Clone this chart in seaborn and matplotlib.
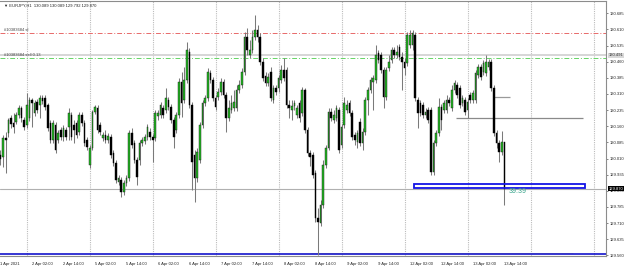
import matplotlib
matplotlib.use("Agg")
import matplotlib.pyplot as plt
import matplotlib.patches as mpatches
import numpy as np
import pandas as pd
import seaborn as sns

symbol_title = "\u25BC EURJPY,H1  130.089 130.089 129.792 129.870"

opens = [130.026,130.017,130.105,130.129,130.198,130.175,130.180,130.212,130.245,130.189,
         130.166,130.198,130.282,130.222,130.273,130.259,130.291,130.291,130.259,130.175,
         130.096,130.166,130.096,130.143,130.110,130.143,130.156,130.212,130.166,130.175,
         130.133,130.212,130.175,130.096,129.980,130.059,130.226,130.245,130.166,130.105,
         130.119,130.096,130.110,130.036,129.989,129.901,129.910,129.854,129.896,129.919,
         130.129,130.082,130.003,130.003,130.082,130.091,130.110,130.133,130.110,130.105,
         130.208,130.212,130.245,130.236,130.282,130.249,130.189,130.143,130.212,130.366,
         130.282,130.375,130.505,130.259,130.026,129.919,130.003,130.166,130.268,130.291,
         130.408,130.375,130.291,130.296,130.319,130.366,130.305,130.198,130.236,130.245,
         130.245,130.329,130.352,130.412,130.575,130.491,130.515,130.575,130.608,130.575,
         130.459,130.394,130.361,130.412,130.282,130.338,130.338,130.375,130.422,130.422,
         130.259,130.236,130.254,130.212,130.268,130.222,130.329,130.143,130.036,130.026,
         129.943,129.733,129.710,129.794,129.980,130.059,130.226,130.189,130.198,130.236,
         130.073,130.166,130.236,130.268,130.222,130.119,130.087,130.180,130.082,130.133,
         130.282,130.329,130.366,130.375,130.501,130.491,130.422,130.296,130.431,130.468,
         130.515,130.491,130.528,130.482,130.459,130.454,130.538,130.538,130.584,130.282,
         130.268,130.259,130.212,130.236,130.236,129.947,130.082,130.129,130.249,130.236,
         130.236,130.282,130.245,130.329,130.352,130.338,130.268,130.282,130.236,130.305,
         130.282,130.282,130.398,130.435,130.412,130.408,130.435,130.459,130.338,130.129,
         130.082,130.040,130.089]
highs = [130.050,130.119,130.133,130.198,130.212,130.222,130.226,130.259,130.254,130.203,
         130.315,130.296,130.291,130.282,130.287,130.305,130.305,130.305,130.268,130.189,
         130.189,130.180,130.143,130.156,130.166,130.156,130.245,130.226,130.189,130.189,
         130.226,130.226,130.189,130.110,130.073,130.236,130.259,130.259,130.180,130.133,
         130.143,130.129,130.124,130.050,130.003,129.933,129.924,129.910,129.933,130.143,
         130.152,130.096,130.017,130.096,130.110,130.124,130.170,130.152,130.124,130.236,
         130.236,130.273,130.259,130.338,130.296,130.263,130.203,130.226,130.384,130.412,
         130.435,130.552,130.524,130.273,130.050,130.059,130.180,130.282,130.305,130.431,
         130.422,130.389,130.305,130.338,130.384,130.380,130.319,130.282,130.305,130.329,
         130.352,130.375,130.431,130.598,130.617,130.561,130.608,130.677,130.631,130.594,
         130.477,130.412,130.408,130.435,130.352,130.352,130.398,130.445,130.477,130.435,
         130.282,130.282,130.282,130.259,130.282,130.342,130.338,130.156,130.050,130.040,
         129.957,129.780,129.817,130.003,130.073,130.245,130.245,130.236,130.259,130.249,
         130.170,130.296,130.282,130.282,130.236,130.133,130.143,130.198,130.152,130.296,
         130.342,130.389,130.398,130.538,130.515,130.505,130.435,130.435,130.491,130.528,
         130.528,130.538,130.542,130.505,130.477,130.598,130.608,130.608,130.598,130.296,
         130.282,130.273,130.245,130.249,130.249,130.096,130.143,130.291,130.263,130.282,
         130.305,130.296,130.352,130.375,130.366,130.352,130.305,130.296,130.291,130.319,
         130.329,130.422,130.449,130.449,130.468,130.491,130.473,130.473,130.352,130.143,
         130.096,130.138,130.089]
lows = [129.980,129.970,129.943,130.110,130.152,130.129,130.170,130.198,130.180,130.143,
        130.152,130.184,130.156,130.208,130.222,130.198,130.263,130.236,130.138,130.082,
        130.082,130.036,130.082,130.096,130.091,130.096,130.096,130.096,130.082,130.105,
        130.119,130.161,130.068,130.050,129.966,130.050,130.217,130.129,130.119,130.091,
        130.082,130.082,130.012,129.975,129.896,129.887,129.831,129.840,129.882,129.905,
        130.059,129.989,129.887,129.980,130.068,130.077,130.096,130.096,129.994,130.091,
        130.189,130.198,130.198,130.222,130.236,130.175,130.059,130.129,130.198,130.203,
        130.268,130.361,130.245,129.864,129.808,129.901,129.989,130.152,130.254,130.277,
        130.361,130.277,130.236,130.282,130.305,130.291,130.133,130.184,130.222,130.231,
        130.231,130.315,130.338,130.398,130.491,130.477,130.501,130.561,130.552,130.445,
        130.370,130.347,130.347,130.277,130.268,130.305,130.319,130.361,130.370,130.245,
        130.198,130.189,130.236,130.198,130.180,130.208,130.129,130.022,129.975,129.919,
        129.715,129.561,129.696,129.780,129.966,130.050,130.184,130.175,130.184,130.036,
        130.059,130.152,130.222,130.208,130.096,130.073,130.059,130.068,130.050,130.119,
        130.212,130.315,130.236,130.361,130.454,130.408,130.245,130.282,130.417,130.454,
        130.477,130.477,130.468,130.329,130.398,130.440,130.524,130.515,130.277,130.152,
        130.208,130.198,130.198,130.175,129.933,129.933,130.068,130.115,130.143,130.222,
        130.222,130.254,130.231,130.315,130.291,130.245,130.254,130.212,130.198,130.268,
        130.268,130.268,130.384,130.375,130.398,130.394,130.422,130.324,130.115,130.059,
        129.994,130.026,129.792]
closes = [130.008,130.105,130.096,130.189,130.170,130.156,130.212,130.245,130.198,130.156,
          130.259,130.282,130.268,130.268,130.236,130.291,130.277,130.249,130.152,130.096,
          130.175,130.050,130.129,130.110,130.152,130.110,130.222,130.110,130.143,130.119,
          130.212,130.175,130.082,130.063,130.059,130.226,130.249,130.143,130.133,130.119,
          130.096,130.115,130.026,129.989,129.910,129.919,129.854,129.896,129.919,130.129,
          130.073,130.003,129.924,130.082,130.096,130.110,130.156,130.110,130.096,130.222,
          130.222,130.259,130.212,130.291,130.249,130.189,130.110,130.212,130.366,130.268,
          130.375,130.515,130.259,129.994,129.919,130.040,130.166,130.268,130.291,130.412,
          130.375,130.291,130.249,130.319,130.366,130.305,130.198,130.245,130.268,130.273,
          130.329,130.352,130.412,130.575,130.515,130.515,130.575,130.608,130.575,130.459,
          130.384,130.361,130.389,130.291,130.338,130.319,130.384,130.422,130.384,130.259,
          130.245,130.254,130.268,130.245,130.198,130.329,130.143,130.036,130.017,129.933,
          129.733,129.715,129.794,129.980,130.059,130.226,130.198,130.212,130.245,130.050,
          130.156,130.268,130.259,130.222,130.110,130.096,130.129,130.082,130.133,130.282,
          130.329,130.375,130.384,130.491,130.468,130.422,130.296,130.422,130.459,130.515,
          130.491,130.505,130.482,130.459,130.431,130.584,130.584,130.594,130.291,130.222,
          130.222,130.212,130.226,130.189,129.947,130.082,130.129,130.249,130.189,130.268,
          130.282,130.268,130.329,130.361,130.305,130.259,130.291,130.226,130.273,130.282,
          130.315,130.408,130.435,130.389,130.454,130.459,130.459,130.338,130.129,130.082,
          130.040,130.087,129.870]

x_tick_labels = ["1 Apr 2021", "2 Apr 02:00", "2 Apr 14:00", "5 Apr 02:00", "5 Apr 14:00",
                 "6 Apr 02:00", "6 Apr 14:00", "7 Apr 02:00", "7 Apr 14:00", "8 Apr 02:00",
                 "8 Apr 14:00", "9 Apr 02:00", "9 Apr 14:00", "12 Apr 02:00", "12 Apr 14:00",
                 "13 Apr 02:00", "13 Apr 14:00"]
x_tick_bars = [0, 12, 24, 36, 48, 60, 72, 84, 96, 108, 120, 132, 144, 156, 168, 180, 192]
day_start_bars = [10, 34, 58, 82, 106, 130, 154, 178, 202, 226]
y_tick_values = [129.560, 129.635, 129.710, 129.785, 129.860, 129.935, 130.010, 130.085,
                 130.160, 130.235, 130.310, 130.385, 130.460, 130.535, 130.610, 130.685]

sl_price = 130.594
sl_label = "#10383684 sl"
open_price = 130.477
open_label = "#10383684 sell 0.13"
gray_line_price = 130.491
bid_price = 129.870
short_line = (187.6, 194.1, 130.296)
long_line = (173.5, 221.9, 130.198)
rect_box = (157.5, 222.7, 129.875, 129.891)
bottom_line_price = 129.564
timer_text = "39:39"

df = pd.DataFrame({"open": opens, "high": highs, "low": lows, "close": closes})
df["bar"] = np.arange(len(df))
df["bull"] = df["close"] >= df["open"]

sns.set_theme(style="white")
plt.rcParams["font.family"] = ["Liberation Sans", "DejaVu Sans"]

FS = 3.0
YMIN, YMAX = 129.557, 130.742

fig = plt.figure(figsize=(6.25, 2.70), dpi=100)
ax = fig.add_axes([0.0, 14 / 270, 606 / 625, 255 / 270])
ax.set_xlim(-0.17, 230.7)
ax.set_ylim(YMIN, YMAX)

for b in day_start_bars:
    ax.axvline(b, color="#bcbcbc", lw=0.8, ls=(0, (1, 1)), zorder=0)

ax.axhline(gray_line_price, color="#d0d0d0", lw=1.2, zorder=1)
ax.axhline(sl_price, color="#e86a6a", lw=0.7, ls=(0, (5, 2, 1, 2)), zorder=1)
ax.axhline(open_price, color="#66d466", lw=0.7, ls=(0, (5, 2, 1, 2)), zorder=1)
ax.axhline(bid_price, color="#b0b0b0", lw=0.8, zorder=1)
ax.hlines(129.5695, 118, 218, color="#f3ecb8", lw=0.7, zorder=1)
ax.axhline(bottom_line_price, color="#0000c8", lw=1.1, zorder=1)

ax.hlines(short_line[2], short_line[0], short_line[1], color="#9a9a9a", lw=0.9, zorder=2)
ax.hlines(long_line[2], long_line[0], long_line[1], color="#8a8a8a", lw=0.9, zorder=2)

ax.vlines(df["bar"], df["low"], df["high"], color="#7a7a7a", lw=0.75, zorder=3)
body_bottom = np.minimum(df["open"], df["close"])
body_height = np.maximum(np.abs(df["close"] - df["open"]), 0.002)
bull = df["bull"].values
ax.bar(df["bar"][bull], body_height[bull], bottom=body_bottom[bull], width=0.62,
       color="#22b822", edgecolor="#1a1a1a", linewidth=0.3, zorder=4)
ax.bar(df["bar"][~bull], body_height[~bull], bottom=body_bottom[~bull], width=0.62,
       color="#000000", edgecolor="#000000", linewidth=0.3, zorder=4)

ax.add_patch(mpatches.Rectangle((rect_box[0], rect_box[2]), rect_box[1] - rect_box[0],
                                rect_box[3] - rect_box[2], fill=False, edgecolor="#1414e6",
                                lw=1.3, zorder=5))
ax.text(193.7, 129.857, timer_text, color="#3aa58c", fontsize=5, va="center", ha="left", zorder=6)

ax.text(1.2, YMAX - 0.012, symbol_title, fontsize=FS, color="#222222", va="top", ha="left")
ax.text(1.2, sl_price + 0.004, sl_label, fontsize=FS, color="#444444", va="bottom", ha="left")
ax.text(1.2, open_price + 0.004, open_label, fontsize=FS, color="#444444", va="bottom", ha="left")

ax.yaxis.tick_right()
ax.set_yticks(y_tick_values)
ax.set_yticklabels([f"{v:.3f}" for v in y_tick_values], fontsize=FS, color="#222222")
ax.tick_params(axis="y", length=1.5, width=0.5, pad=1.0, colors="#555555", labelcolor="#222222")
ax.set_xticks(x_tick_bars)
ax.set_xticklabels(x_tick_labels, fontsize=FS, color="#222222")
ax.tick_params(axis="x", length=2, width=0.5, pad=2, colors="#555555", labelcolor="#222222")
for lbl in ax.get_xticklabels():
    lbl.set_horizontalalignment("left")

for price, txt, fc, tc in [(bid_price, "129.870", "#000000", "#ffffff"),
                           (gray_line_price, "130.491", "#d8d8d8", "#333333")]:
    ax.text(1.0045, (price - YMIN) / (YMAX - YMIN), txt, transform=ax.transAxes,
            fontsize=FS, color=tc, va="center", ha="left", zorder=10,
            bbox=dict(boxstyle="square,pad=0.12", fc=fc, ec="none"), clip_on=False)

ax.spines["left"].set_visible(False)
for side in ["top", "right", "bottom"]:
    ax.spines[side].set_color("#8c8c8c")
    ax.spines[side].set_linewidth(0.8)
ax.grid(False)

fig.savefig("out.png", dpi=100, facecolor="white")
